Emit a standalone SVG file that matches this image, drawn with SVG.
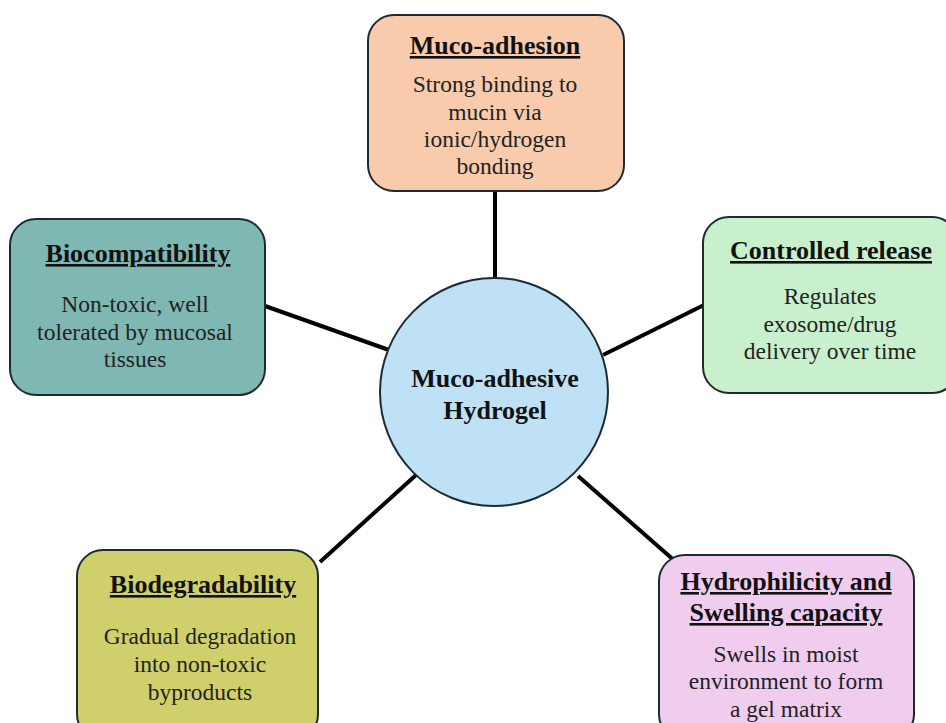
<svg xmlns="http://www.w3.org/2000/svg" width="946" height="723" viewBox="0 0 946 723">
<style>
.box{stroke:#1c2b33;stroke-width:2}
.t{font-family:"Liberation Serif","Times New Roman",serif;font-weight:bold;font-size:26px;text-decoration:underline;text-anchor:middle;fill:#111}
.b{font-family:"Liberation Serif","Times New Roman",serif;font-size:23.5px;text-anchor:middle;fill:#222}
.c{font-family:"Liberation Serif","Times New Roman",serif;font-weight:bold;font-size:26px;text-anchor:middle;fill:#111}
.ln{stroke:#000;stroke-width:4;fill:none}
</style>
<rect width="946" height="723" fill="#fff"/>
<g id="connectors">
<line class="ln" x1="495" y1="190" x2="495" y2="280"/>
<line class="ln" x1="265" y1="306" x2="389" y2="350"/>
<line class="ln" x1="704" y1="305" x2="603" y2="355"/>
<line class="ln" x1="320" y1="562" x2="416" y2="475"/>
<line class="ln" x1="676" y1="562" x2="578" y2="476"/>
</g>
<g id="muco-adhesion">
<rect class="box" x="368" y="15" width="256" height="176" rx="26" fill="#F8CBAD"/>
<text class="t" x="495" y="54">Muco-adhesion</text>
<text class="b" x="495" y="92">Strong binding to</text>
<text class="b" x="495" y="120">mucin via</text>
<text class="b" x="495" y="147">ionic/hydrogen</text>
<text class="b" x="495" y="174">bonding</text>
</g>
<g id="biocompatibility">
<rect class="box" x="10" y="219" width="255" height="176" rx="26" fill="#7FB8B2"/>
<text class="t" x="138" y="262">Biocompatibility</text>
<text class="b" x="135" y="312">Non-toxic, well</text>
<text class="b" x="135" y="340">tolerated by mucosal</text>
<text class="b" x="135" y="367">tissues</text>
</g>
<g id="controlled-release">
<rect class="box" x="703" y="217" width="255" height="176" rx="26" fill="#C9F0CC"/>
<text class="t" x="831" y="259">Controlled release</text>
<text class="b" x="830" y="304">Regulates</text>
<text class="b" x="830" y="332">exosome/drug</text>
<text class="b" x="830" y="359">delivery over time</text>
</g>
<g id="hydrogel">
<circle class="box" cx="494" cy="392" r="114" fill="#BEE1F5"/>
<text class="c" x="495" y="387">Muco-adhesive</text>
<text class="c" x="495" y="419">Hydrogel</text>
</g>
<g id="biodegradability">
<rect class="box" x="77" y="550" width="241" height="190" rx="26" fill="#CFCF6C"/>
<text class="t" x="203" y="593">Biodegradability</text>
<text class="b" x="200" y="644">Gradual degradation</text>
<text class="b" x="200" y="672">into non-toxic</text>
<text class="b" x="200" y="700">byproducts</text>
</g>
<g id="hydrophilicity">
<rect class="box" x="659" y="555" width="255" height="185" rx="26" fill="#F0CDEF"/>
<text class="t" x="786" y="590">Hydrophilicity and</text>
<text class="t" x="786" y="621">Swelling capacity</text>
<text class="b" x="786" y="662">Swells in moist</text>
<text class="b" x="786" y="689">environment to form</text>
<text class="b" x="786" y="717">a gel matrix</text>
</g>
</svg>
